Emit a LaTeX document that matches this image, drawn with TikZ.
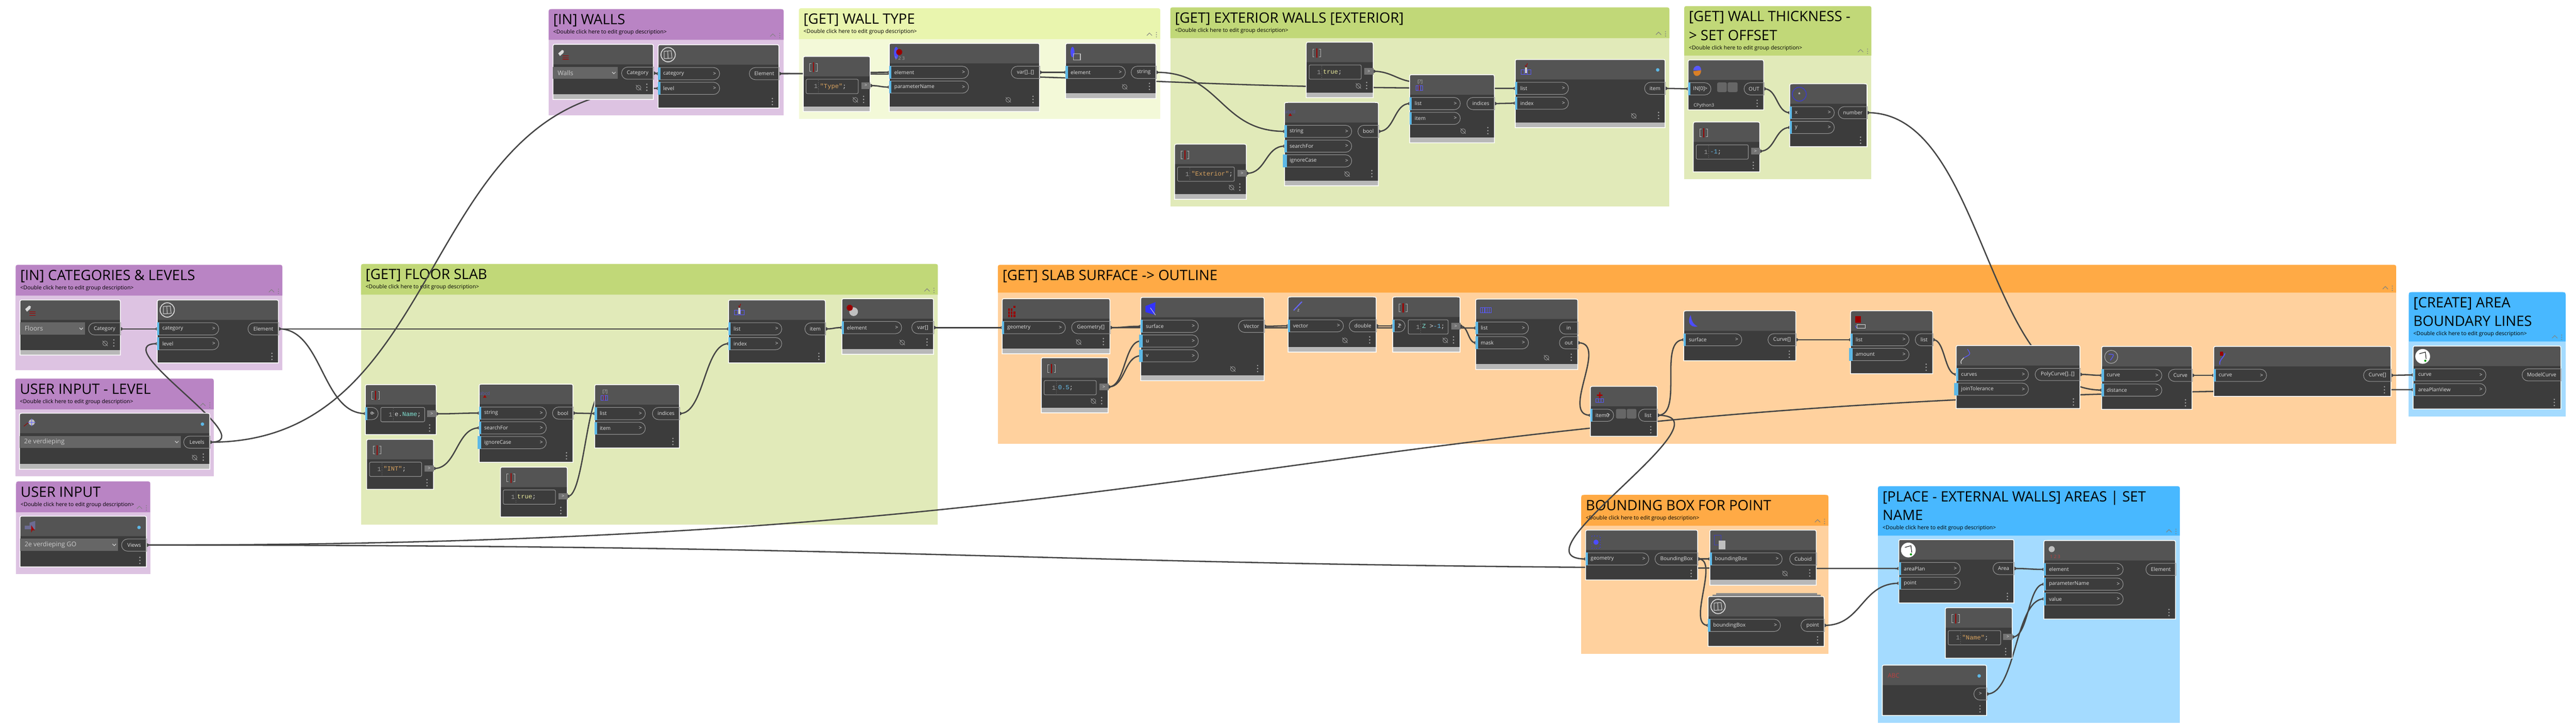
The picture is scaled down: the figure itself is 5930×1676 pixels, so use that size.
\documentclass[tikz,border=0pt]{standalone}
\usepackage{fontspec}
\setmainfont{Open Sans}
\setmonofont{Liberation Mono}
\usetikzlibrary{shapes.misc}
\definecolor{purH}{HTML}{B984C4}
\definecolor{purL}{HTML}{DDC3E2}
\definecolor{grnH}{HTML}{C1D878}
\definecolor{grnL}{HTML}{E1EAB9}
\definecolor{yelH}{HTML}{E9F5AE}
\definecolor{yelL}{HTML}{F3F9D8}
\definecolor{orgH}{HTML}{FFAA45}
\definecolor{orgL}{HTML}{FFD19E}
\definecolor{bluH}{HTML}{48B8FF}
\definecolor{bluL}{HTML}{A4DBFF}
\definecolor{cardB}{HTML}{3C3C3C}
\definecolor{cardH}{HTML}{545454}
\definecolor{cardF}{HTML}{B8B8B8}
\definecolor{wireC}{HTML}{444444}
\definecolor{portC}{HTML}{5DB8E6}
\definecolor{cStr}{HTML}{D9A35F}
\definecolor{cKey}{HTML}{E8E89A}
\definecolor{cNum}{HTML}{66BBE8}
\definecolor{cVar}{HTML}{7FE0D0}
\pgfdeclarelayer{grouplayer}
\pgfdeclarelayer{wirelayer}
\pgfsetlayers{grouplayer,wirelayer,main}
\tikzset{
wire/.style={draw=wireC, line width=0.03cm}, % all connectors
cardline/.style={draw=white, line width=0.018cm},
inport/.style={draw=gray!80, line width=0.012cm, rounded rectangle, rounded rectangle west arc=none, minimum height=0.28cm, inner sep=0pt},
outport/.style={draw=gray!80, line width=0.012cm, rounded rectangle, rounded rectangle east arc=none, minimum height=0.28cm, inner sep=0pt},
porttext/.style={text=white!88!black, font=\fontsize{3.4}{5}\selectfont, inner sep=0pt},
droptext/.style={text=white!80!black, font=\fontsize{4.2}{6}\selectfont, inner sep=0pt},
codebox/.style={draw=gray!80, line width=0.012cm, rounded corners=0.03cm, minimum height=0.33cm, inner sep=0pt},
codetext/.style={font=\fontsize{4.1}{5}\ttfamily, inner sep=0pt, text=white!85!black},
icotext/.style={font=\fontsize{3}{4}\selectfont, inner sep=0pt},
icoline/.style={draw=white!70!black, line width=0.012cm},
titletext/.style={font=\fontsize{9.3}{12.2}\selectfont, inner sep=0pt, align=left, anchor=north west},
desctext/.style={font=\fontsize{3.55}{4}\selectfont, inner sep=0pt, anchor=west},
}
% group box: [description] name, x1, y1, x2, y2, header bottom, colour, title
\newcommand{\grp}[9][<Double click here to edit group description>]{%
  \fill[#8L] (#3,#6) rectangle (#5,#7);
  \fill[#8H] (#3,#7) -- (#3,#4+10) .. controls (#3,#4) .. (#3+10,#4) -- (#5-10,#4) .. controls (#5,#4) .. (#5,#4+10) -- (#5,#7) -- cycle;
  \node[titletext] (#2t) at (#3+10,#4+7) {\rule{0pt}{0.28cm}#9};
  \node[desctext] (#2d) at (#3+10,#7-17) {#1};
  \draw[gray, line width=0.012cm] (#5-31,#7-8) -- (#5-25,#7-14) -- (#5-19,#7-8);
  \foreach \i in {-15,-10,-5} \fill[gray] (#5-9,#7+\i) circle (0.012cm);
}
% three dots of a card
\newcommand{\cdotz}[2]{\foreach \i in {-7,0,7} \fill[gray!70] (#1,#2+\i) circle (0.017cm);}
% eye of a card
\newcommand{\ceye}[2]{%
  \draw[gray!80, line width=0.01cm] (#1,#2) circle (0.055cm);
  \draw[gray!80, line width=0.01cm] (#1-6,#2-6) -- (#1+6,#2+6);}
% card: name, x1, y1, x2, y2
\newcommand{\cardbase}[5]{%
  \fill[cardB] (#2,#5) -- (#2,#3+8) .. controls (#2,#3) .. (#2+8,#3) -- (#4-8,#3) .. controls (#4,#3) .. (#4,#3+8) -- (#4,#5) -- cycle;
  \fill[cardH] (#2,#3+46) -- (#2,#3+8) .. controls (#2,#3) .. (#2+8,#3) -- (#4-8,#3) .. controls (#4,#3) .. (#4,#3+8) -- (#4,#3+46) -- cycle;
  \node[inner sep=0pt, anchor=north west, minimum width={(#4-#2)*0.01cm}, minimum height={(#5-#3)*0.01cm}] (#1) at (#2,#3) {};
}
\newcommand{\cardline}[4]{\draw[cardline] (#1,#4) -- (#1,#2+8) .. controls (#1,#2) .. (#1+8,#2) -- (#3-8,#2) .. controls (#3,#2) .. (#3,#2+8) -- (#3,#4) -- cycle;}
\newcommand{\card}[5]{%
  \cardbase{#1}{#2}{#3}{#4}{#5}
  \cdotz{#4-15}{#5-15}
  \cardline{#2}{#3}{#4}{#5}
}
% card with grey footer, last value: eye offset
\newcommand{\cardf}[6]{%
  \cardbase{#1}{#2}{#3}{#4}{#5}
  \fill[cardF] (#2,#5-12) rectangle (#4,#5);
  \cdotz{#4-15}{#5-28}
  \ceye{#4-#6}{#5-27}
  \cardline{#2}{#3}{#4}{#5}
}
% ports: name, card, row, width, label
\newcommand{\inp}[5]{%
  \node[inport, minimum width=#4*0.01cm, anchor=north west] (#1) at ([shift={(0,{52+34*#3})}]#2.north west) {};
  \fill[portC] (#1.north west) rectangle ([xshift=0.05cm]#1.south west);
  \node[porttext, anchor=west] (#1t) at ([xshift=0.11cm]#1.west) {#5};
  \node[porttext, anchor=east] (#1a) at ([xshift=-0.08cm]#1.east) {>};
}
\newcommand{\outp}[5]{%
  \node[outport, minimum width=#4*0.01cm, anchor=north east] (#1) at ([shift={(0,{52+34*#3})}]#2.north east) {};
  \node[porttext] (#1t) at (#1.center) {#5};
}
% default value bar left of an input
\newcommand{\defbar}[1]{\fill[portC] ([xshift=-0.04cm]#1.north west) rectangle (#1.south west);}
% dropdown: name, card, width, label
\newcommand{\drop}[4]{%
  \fill[white!40!black] ([shift={(0,52)}]#2.north west) rectangle ([shift={(#3,80)}]#2.north west);
  \node[droptext, anchor=west] (#1) at ([shift={(10,66)}]#2.north west) {#4};
  \draw[white!85!black, line width=0.012cm] ([shift={(#3-13,64)}]#2.north west) -- ([shift={(#3-9,68)}]#2.north west) -- ([shift={(#3-5,64)}]#2.north west);
}
% code block: name, card, left, box width, code
\newcommand{\code}[5]{%
  \node[codebox, minimum width=#4*0.01cm, anchor=north west] (#1c) at ([shift={(#3,52)}]#2.north west) {};
  \node[codetext, text=gray!80, anchor=west] (#1n) at ([xshift=0.18cm]#1c.west) {1};
  \draw[gray, line width=0.008cm, densely dotted] ([shift={(29,3)}]#1c.north west) -- ([shift={(29,-3)}]#1c.south west);
  \node[codetext, anchor=west] (#1s) at ([xshift=0.32cm]#1c.west) {#5};
  \node[fill=gray!90!black, inner sep=0pt, minimum width=0.21cm, minimum height=0.15cm, anchor=north east] (#1) at ([shift={(0,59)}]#2.north east) {};
  \node[porttext, font=\fontsize{3}{4}\selectfont] (#1g) at (#1.center) {>};
}
% icon inside a card
\newcommand{\icon}[2]{\begin{scope}[shift={(#1.north west)}]#2\end{scope}}
\newcommand{\icocb}[1]{\icon{#1}{%
  \draw[icoline] (19,16) -- (15,16) -- (15,34) -- (19,34);
  \draw[icoline] (29,16) -- (33,16) -- (33,34) -- (29,34);
  \draw[red!60!black, line width=0.025cm] (24,14) -- (24,36);}}
\newcommand{\icoel}[1]{\icon{#1}{%
  \draw[white!85!black, line width=0.02cm] (23,23) circle (0.165cm);
  \draw[white!85!black, line width=0.012cm] (14,15) -- (30,14) -- (32,31) -- (14,32) -- cycle (22,15) -- (23,31);}}
\newcommand{\icotag}[1]{\icon{#1}{%
  \fill[white!85!black] (12,21) -- (21,13) -- (25,15) -- (24,20) -- (16,27) -- cycle;
  \foreach \i in {27,31,35} \draw[red!65!black, line width=0.015cm] (22,\i) -- (36,\i);}}
\newcommand{\icofind}[1]{\icon{#1}{%
  \node[icotext, text=blue!30!gray] (#1i) at (13,21) {abcd};
  \fill[red!65!black] (9,31) -- (13,25) -- (17,31) -- cycle;}}
\newcommand{\icoidx}[1]{\icon{#1}{%
  \node[icotext, text=white!75!black] (#1i) at (24,17) {[?]};
  \draw[blue!65!white, line width=0.012cm] (15,26) rectangle (30,36) (20,26) -- (20,36) (25,26) -- (25,36);
  \draw[red!65!black, line width=0.012cm] (22,24) -- (22,37);}}
\newcommand{\icoget}[1]{\icon{#1}{%
  \draw[blue!65!white, line width=0.012cm] (14,24) rectangle (36,34) (21,24) -- (21,34) (28,24) -- (28,34);
  \fill[white!80!black] (23,18) rectangle (27,32);
  \draw[red!65!black, line width=0.012cm] (23,13) -- (25,17) -- (28,9);}}
\begin{document}
\begin{tikzpicture}[x=0.01cm, y=-0.01cm]
\useasboundingbox (0,0) rectangle (5930,1676);
\begin{pgfonlayer}{grouplayer}
  \fill[white] (0,0) rectangle (5930,1676);
  \grp{gcat}{36}{610}{650}{853}{681}{pur}{[IN] CATEGORIES \& LEVELS}
  \grp{glvl}{35}{872}{492}{1097}{943}{pur}{USER INPUT - LEVEL}
  \grp{gview}{37}{1109}{346}{1322}{1180}{pur}{USER INPUT}
  \grp{gwalls}{1263}{21}{1804}{266}{92}{pur}{[IN] WALLS}
  \grp{gtype}{1839}{19}{2671}{274}{90}{yel}{[GET] WALL TYPE}
  \grp{gext}{2694}{17}{3843}{476}{88}{grn}{[GET] EXTERIOR WALLS [EXTERIOR]}
  \grp{gthick}{3877}{14}{4308}{413}{128}{grn}{[GET] WALL THICKNESS -\\> SET OFFSET}
  \grp{gslab}{831}{608}{2159}{1208}{679}{grn}{[GET] FLOOR SLAB}
  \grp[]{gsurf}{2297}{610}{5516}{1022}{674}{org}{[GET] SLAB SURFACE -> OUTLINE}
  \grp{gbbox}{3640}{1140}{4209}{1506}{1211}{org}{BOUNDING BOX FOR POINT}
  \grp{gplace}{4323}{1120}{5018}{1665}{1234}{blu}{[PLACE - EXTERNAL WALLS] AREAS | SET\\NAME}
  \grp{gcreate}{5545}{673}{5906}{959}{787}{blu}{[CREATE] AREA\\BOUNDARY LINES}
\end{pgfonlayer}

% inputs on the left
\cardf{fcat}{46}{691}{277}{818}{35}
\drop{fcatd}{fcat}{150}{Floors}
\outp{fcato}{fcat}{0}{74}{Category}
\icotag{fcat}
\card{fel}{362}{691}{641}{836}
\inp{felc}{fel}{0}{141}{category}
\inp{fell}{fel}{1}{141}{level}
\outp{felo}{fel}{0}{71}{Element}
\icoel{fel}
\cardf{lvl}{45}{952}{483}{1081}{35}
\drop{lvld}{lvl}{371}{2e verdieping}
\outp{lvlo}{lvl}{0}{61}{Levels}
\fill[portC] (466,977) circle (0.04cm);
\icon{lvl}{\draw[red!60!black, line width=0.012cm] (10,30) -- (24,18);
  \fill[white!75!black] (28,21) circle (0.07cm);
  \draw[blue!60!white, line width=0.012cm] (28,12) -- (28,30) (19,21) -- (37,21);}
\card{view}{46}{1189}{337}{1306}
\drop{viewd}{view}{226}{2e verdieping GO}
\outp{viewo}{view}{0}{58}{Views}
\fill[portC] (320,1215) circle (0.04cm);
\icon{view}{\fill[blue!15!gray] (11,30) -- (11,22) -- (22,22) -- (22,15) -- (35,11) -- (35,30) -- cycle;
  \fill[red!65!black] (26,21) -- (34,33) -- (29,32) -- (26,38) -- cycle;}

% floor slab
\card{cbn}{841}{886}{1004}{1001}
\inp{cbne}{cbn}{0}{29}{e}
\code{cbnr}{cbn}{35}{101}{e.\textcolor{cVar}{Name};}
\icocb{cbn}
\card{cbi}{844}{1012}{998}{1127}
\code{cbir}{cbi}{6}{120}{\textcolor{cStr}{"INT"};}
\icocb{cbi}
\card{scn}{1103}{885}{1319}{1065}
\inp{scns}{scn}{0}{154}{string}
\inp{scnf}{scn}{1}{154}{searchFor}
\inp{scni}{scn}{2}{154}{ignoreCase}
\defbar{scni}
\outp{scno}{scn}{0}{48}{bool}
\icofind{scn}
\card{cbt}{1152}{1076}{1306}{1191}
\code{cbtr}{cbt}{6}{120}{\textcolor{cKey}{true};}
\icocb{cbt}
\card{aio}{1369}{886}{1564}{1032}
\inp{aiol}{aio}{0}{116}{list}
\inp{aioi}{aio}{1}{116}{item}
\outp{aioo}{aio}{0}{63}{indices}
\icoidx{aio}
\card{gia}{1677}{691}{1900}{836}
\inp{gial}{gia}{0}{122}{list}
\inp{giai}{gia}{1}{122}{index}
\outp{giao}{gia}{0}{48}{item}
\icoget{gia}
\cardf{ego}{1938}{688}{2149}{816}{72}
\inp{egoe}{ego}{0}{137}{element}
\outp{egoo}{ego}{0}{51}{var[]}
\icon{ego}{\fill[white!75!black] (27,30) circle (0.1cm);
  \fill[red!60!black] (18,21) circle (0.07cm);}

% walls
\cardf{wcat}{1273}{102}{1504}{229}{34}
\drop{wcatd}{wcat}{149}{Walls}
\outp{wcato}{wcat}{0}{74}{Category}
\icotag{wcat}
\card{wel}{1515}{103}{1793}{249}
\inp{welc}{wel}{0}{141}{category}
\inp{well}{wel}{1}{141}{level}
\outp{welo}{wel}{0}{69}{Element}
\icoel{wel}

% wall type
\cardf{cbp}{1849}{130}{2003}{257}{34}
\code{cbpr}{cbp}{6}{120}{\textcolor{cStr}{"Type"};}
\icocb{cbp}
\cardf{gpv}{2047}{100}{2393}{257}{72}
\inp{gpve}{gpv}{0}{182}{element}
\inp{gpvn}{gpv}{1}{182}{parameterName}
\outp{gpvo}{gpv}{0}{66}{var[]..[]}
\icon{gpv}{\fill[blue!70!white] (16,22) ellipse (0.05cm and 0.14cm);
  \fill[red!60!black] (23,20) circle (0.07cm);
  \node[icotext, text=gray!70] (gpvi) at (24,34) {1 2 3};}
\cardf{wtn}{2453}{100}{2661}{227}{72}
\inp{wtne}{wtn}{0}{137}{element}
\outp{wtno}{wtn}{0}{58}{string}
\icon{wtn}{\fill[blue!70!white] (16,20) ellipse (0.045cm and 0.12cm);
  \draw[white!75!black, line width=0.015cm] (18,24) rectangle (34,38);}

% exterior walls
\cardf{cbq}{3007}{97}{3161}{225}{34}
\code{cbqr}{cbq}{6}{120}{\textcolor{cKey}{true};}
\icocb{cbq}
\cardf{sex}{2957}{236}{3173}{428}{72}
\inp{sexs}{sex}{0}{154}{string}
\inp{sexf}{sex}{1}{154}{searchFor}
\inp{sexi}{sex}{2}{154}{ignoreCase}
\defbar{sexi}
\outp{sexo}{sex}{0}{48}{bool}
\icofind{sex}
\cardf{cbx}{2704}{332}{2869}{459}{34}
\code{cbxr}{cbx}{6}{131}{\textcolor{cStr}{"Exterior"};}
\icocb{cbx}
\cardf{aie}{3245}{172}{3440}{329}{72}
\inp{aiel}{aie}{0}{116}{list}
\inp{aiei}{aie}{1}{116}{item}
\outp{aieo}{aie}{0}{64}{indices}
\icoidx{aie}
\cardf{gie}{3488}{137}{3833}{294}{72}
\inp{giel}{gie}{0}{122}{list}
\inp{giei}{gie}{1}{122}{index}
\outp{gieo}{gie}{0}{48}{item}
\fill[portC] (3816,161) circle (0.04cm);
\icoget{gie}

% wall thickness
\card{pyt}{3886}{138}{4060}{253}
\inp{pyti}{pyt}{0}{52}{IN[0]}
\outp{pyto}{pyt}{0}{46}{OUT}
\fill[white!40!black, rounded corners=0.03cm] (3953,190) rectangle (3975,212) (3977,190) rectangle (4000,212);
\node[icotext, text=white!85!black, anchor=west] (pytc) at (3898,243) {CPython3};
\icon{pyt}{\fill[blue!65!white] (12,24) .. controls (12,12) and (30,8) .. (30,24) -- cycle;
  \fill[orange!70!gray] (30,24) .. controls (30,40) and (12,42) .. (12,26) -- cycle;}
\card{cbm}{3898}{281}{4051}{396}
\code{cbmr}{cbm}{6}{120}{\textcolor{cNum}{-1};}
\icocb{cbm}
\card{mul}{4120}{193}{4298}{338}
\inp{mulx}{mul}{0}{102}{x}
\inp{muly}{mul}{1}{102}{y}
\outp{mulo}{mul}{0}{67}{number}
\icon{mul}{\draw[blue!50!gray, line width=0.02cm] (22,24) circle (0.16cm);
  \node[icotext, text=white] (muli) at (22,24) {*};}

% slab surface
\cardf{gex}{2307}{688}{2555}{815}{72}
\inp{gexg}{gex}{0}{145}{geometry}
\outp{gexo}{gex}{0}{89}{Geometry[]}
\icon{gex}{\foreach \i/\j in {14/30,20/30,26/30,14/23,20/23,26/16,14/37,20/37,26/37} \fill[red!60!black] (\i,\j) rectangle +(4,5);}
\cardf{cbh}{2397}{824}{2551}{951}{34}
\code{cbhr}{cbh}{6}{120}{\textcolor{cNum}{0.5};}
\icocb{cbh}
\cardf{nrm}{2626}{685}{2910}{877}{72}
\inp{nrms}{nrm}{0}{132}{surface}
\inp{nrmu}{nrm}{1}{132}{u}
\inp{nrmv}{nrm}{2}{132}{v}
\defbar{nrmu}
\defbar{nrmv}
\outp{nrmo}{nrm}{0}{60}{Vector}
\icon{nrm}{\fill[blue!80!white] (11,20) -- (34,11) -- (32,40) -- (11,34) -- cycle;
  \draw[white!80!black, line width=0.012cm] (22,24) -- (34,41);}
\cardf{vcz}{2965}{684}{3168}{811}{72}
\inp{vczv}{vcz}{0}{127}{vector}
\outp{vczo}{vcz}{0}{63}{double}
\icon{vcz}{\draw[blue!60!white, line width=0.025cm] (13,31) -- (32,11);
  \node[icotext, text=white!80!black] (vczi) at (24,31) {z};}
\cardf{cbz}{3206}{684}{3361}{811}{34}
\inp{cbze}{cbz}{0}{27}{Z}
\code{cbzr}{cbz}{35}{92}{\textcolor{cVar}{Z} >\textcolor{cNum}{-1};}
\icocb{cbz}
\cardf{fbm}{3397}{689}{3632}{851}{72}
\inp{fbml}{fbm}{0}{121}{list}
\inp{fbmm}{fbm}{1}{121}{mask}
\outp{fbmi}{fbm}{0}{43}{in}
\outp{fbmo}{fbm}{1}{43}{out}
\icon{fbm}{\draw[blue!65!white, line width=0.012cm] (11,20) rectangle (36,31) (16,20) -- (16,31) (21,20) -- (21,31) (26,20) -- (26,31) (31,20) -- (31,31);}
\card{lsc}{3661}{890}{3815}{1005}
\inp{lsci}{lsc}{0}{53}{item0}
\outp{lsco}{lsc}{0}{44}{list}
\fill[white!40!black, rounded corners=0.03cm] (3720,942) rectangle (3743,964) (3745,942) rectangle (3767,964);
\icon{lsc}{\fill[red!65!black] (20,14) rectangle (23,28) (15,19) rectangle (28,22);
  \draw[blue!65!white, line width=0.012cm] (12,29) rectangle (30,37) (18,29) -- (18,37) (24,29) -- (24,37);}
\card{plc}{3876}{716}{4134}{831}
\inp{plcs}{plc}{0}{133}{surface}
\outp{plco}{plc}{0}{65}{Curve[]}
\icon{plc}{\fill[blue!70!white] (16,10) .. controls (8,22) and (12,40) .. (32,36) .. controls (20,30) and (18,22) .. (16,10);}
\card{shf}{4260}{716}{4449}{861}
\inp{shfl}{shf}{0}{134}{list}
\inp{shfa}{shf}{1}{134}{amount}
\defbar{shfa}
\outp{shfo}{shf}{0}{41}{list}
\icon{shf}{\fill[red!60!black] (11,12) rectangle (24,28);
  \draw[white!85!black, line width=0.015cm] (15,32) rectangle (34,40);
  \draw[blue!65!white, line width=0.012cm] (11,34) -- (14,40);}
\card{pcv}{4503}{796}{4788}{941}
\inp{pcvc}{pcv}{0}{166}{curves}
\inp{pcvj}{pcv}{1}{166}{joinTolerance}
\defbar{pcvj}
\outp{pcvo}{pcv}{0}{104}{PolyCurve[]..[]}
\icon{pcv}{\draw[blue!65!white, line width=0.015cm] (26,8) .. controls (34,20) .. (18,28);
  \draw[white!85!black, line width=0.015cm] (18,28) .. controls (10,36) .. (12,42);}
\card{cof}{4838}{798}{5046}{943}
\inp{cofc}{cof}{0}{138}{curve}
\inp{cofd}{cof}{1}{138}{distance}
\outp{cofo}{cof}{0}{55}{Curve}
\icon{cof}{\draw[white!70!black, line width=0.012cm] (22,24) circle (0.15cm);
  \draw[blue!65!white, line width=0.015cm] (16,18) .. controls (30,18) .. (20,32);}
\card{cur}{5096}{798}{5504}{913}
\inp{curc}{cur}{0}{121}{curve}
\outp{curo}{cur}{0}{64}{Curve[]}
\icon{cur}{\fill[red!60!black] (14,12) rectangle (22,22);
  \draw[blue!65!white, line width=0.02cm] (26,16) .. controls (22,28) and (12,30) .. (14,42);}

% area boundary lines
\card{mcv}{5555}{797}{5895}{942}
\inp{mcvc}{mcv}{0}{167}{curve}
\inp{mcva}{mcv}{1}{167}{areaPlanView}
\outp{mcvo}{mcv}{0}{90}{ModelCurve}
\icon{mcv}{\fill[white] (22,24) circle (0.17cm);
  \draw[black, line width=0.012cm] (14,18) -- (28,14) -- (30,30);
  \fill[green!60!black] (28,34) circle (0.025cm);}

% bounding box
\card{bbx}{3650}{1221}{3908}{1336}
\inp{bbxg}{bbx}{0}{145}{geometry}
\outp{bbxo}{bbx}{0}{99}{BoundingBox}
\icon{bbx}{\draw[blue!50!gray, line width=0.02cm, densely dotted] (14,14) rectangle (34,42);
  \fill[blue!70!white] (24,28) circle (0.06cm);}
\cardf{cub}{3936}{1221}{4181}{1348}{72}
\inp{cubb}{cub}{0}{166}{boundingBox}
\outp{cubo}{cub}{0}{62}{Cuboid}
\icon{cub}{\draw[blue!50!gray, line width=0.012cm] (10,12) rectangle (26,34);
  \fill[white!75!black] (20,24) rectangle (36,44);}
\fill[gray!90] (3950,1366) rectangle (4183,1370);
\fill[gray] (3942,1370) rectangle (4191,1374);
\card{pnt}{3932}{1374}{4199}{1489}
\inp{pntb}{pnt}{0}{166}{boundingBox}
\outp{pnto}{pnt}{0}{54}{point}
\icoel{pnt}

% place areas
\card{apt}{4371}{1243}{4636}{1389}
\inp{apta}{apt}{0}{141}{areaPlan}
\inp{aptp}{apt}{1}{141}{point}
\outp{apto}{apt}{0}{49}{Area}
\icon{apt}{\fill[white] (22,24) circle (0.17cm);
  \draw[black, line width=0.012cm] (14,18) -- (28,14) -- (30,30);
  \fill[green!60!black] (28,34) circle (0.025cm);}
\card{cbv}{4478}{1400}{4632}{1516}
\code{cbvr}{cbv}{6}{121}{\textcolor{cStr}{"Name"};}
\icocb{cbv}
\card{str}{4333}{1532}{4573}{1648}
\node[outport, minimum width=0.3cm, anchor=north east] (stro) at ([shift={(0,52)}]str.north east) {};
\node[porttext] (strt) at (stro.center) {>};
\fill[portC] (4556,1557) circle (0.04cm);
\node[icotext, text=red!50!gray, anchor=west, font=\fontsize{4}{5}\selectfont] (stri) at (4345,1556) {ABC};
\card{spv}{4705}{1245}{5008}{1426}
\inp{spve}{spv}{0}{182}{element}
\inp{spvn}{spv}{1}{182}{parameterName}
\inp{spvv}{spv}{2}{182}{value}
\outp{spvo}{spv}{0}{69}{Element}
\icon{spv}{\fill[white!75!black] (18,20) circle (0.07cm);
  \node[icotext, text=red!50!gray] (spvi) at (26,38) {1 2 3};}

\begin{pgfonlayer}{wirelayer}
\newcommand{\wire}[3]{%
  \draw[wire] (#1.east) .. controls +(#3,0) and +(-#3,0) .. (#2.west);
  \fill[wireC] (#1.east) circle (0.04cm) (#2.west) circle (0.04cm);}
\wire{fcato}{felc}{40}
\wire{felo}{gial}{500}
\wire{felo}{cbne}{100}
\wire{lvlo}{fell}{125}
\wire{lvlo}{well}{560}
\wire{wcato}{welc}{10}
\wire{viewo}{apta}{2017}
\wire{viewo}{mcva}{2609}
\wire{cbnr}{scns}{50}
\wire{cbir}{scnf}{52}
\wire{scno}{aiol}{25}
\wire{cbtr}{aioi}{36}
\wire{aioo}{giai}{56}
\wire{giao}{egoe}{20}
\wire{egoo}{gexg}{80}
\wire{welo}{gpve}{127}
\wire{welo}{giel}{850}
\wire{cbpr}{gpvn}{22}
\wire{gpvo}{wtne}{30}
\wire{wtno}{sexs}{148}
\wire{cbxr}{sexf}{44}
\wire{cbqr}{aiei}{42}
\wire{sexo}{aiel}{36}
\wire{aieo}{giei}{24}
\wire{gieo}{pyti}{26}
\wire{pyto}{mulx}{30}
\wire{cbmr}{muly}{34}
\wire{mulo}{cofd}{270}
\wire{gexo}{nrms}{36}
\wire{gexo}{fbml}{420}
\wire{cbhr}{nrmu}{38}
\wire{cbhr}{nrmv}{38}
\wire{nrmo}{vczv}{28}
\wire{vczo}{cbze}{19}
\wire{cbzr}{fbmm}{18}
\wire{fbmo}{lsci}{70}
\wire{lsco}{plcs}{60}
\wire{lsco}{bbxg}{180}
\wire{plco}{shfl}{63}
\wire{shfo}{pcvc}{27}
\wire{pcvo}{cofc}{25}
\wire{cofo}{curc}{25}
\wire{curo}{mcvc}{25}
\wire{bbxo}{cubb}{14}
\wire{bbxo}{pntb}{50}
\wire{pnto}{aptp}{86}
\wire{apto}{spve}{35}
\wire{cbvr}{spvn}{36}
\wire{stro}{spvv}{66}
\end{pgfonlayer}
\end{tikzpicture}
\end{document}
